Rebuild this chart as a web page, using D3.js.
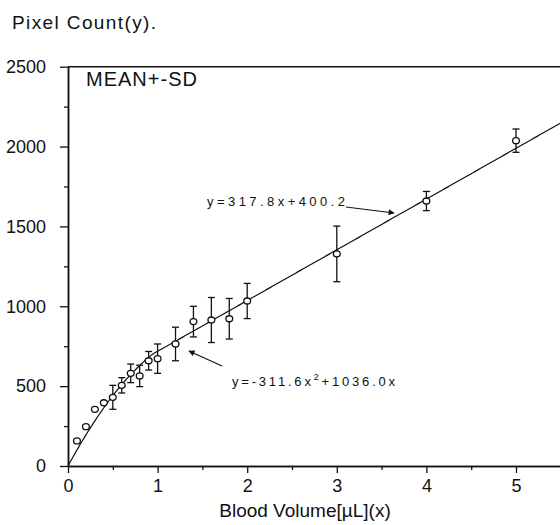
<!DOCTYPE html>
<html>
<head>
<meta charset="utf-8">
<script src="https://cdn.jsdelivr.net/npm/d3@7"></script>
<style>
  body { margin: 0; background: #fff; }
  text { font-family: "Liberation Sans", Arial, sans-serif; fill: #111; }
</style>
</head>
<body>
<svg id="chart" width="560" height="525"></svg>
<script>
// blood volume (uL) and mean pixel count with SD
const volumes = [0.1, 0.2, 0.3, 0.4, 0.5, 0.6, 0.7, 0.8, 0.9, 1.0, 1.2, 1.4, 1.6, 1.8, 2.0, 3.0, 4.0, 5.0];
const means   = [157, 246, 355, 396, 430, 505, 580, 564, 659, 672, 764, 904, 914, 922, 1033, 1328, 1659, 2037];
const sds     = [0, 0, 0, 0, 75, 48, 58, 67, 58, 92, 105, 96, 141, 127, 110, 174, 60, 73];

// fitted curves printed on the chart
const quadCoef = [-311.6, 1036.0];   // a*x^2 + b*x
const linCoef  = [317.8, 400.2];     // m*x + c

const xTicks = [0, 1, 2, 3, 4, 5];
const xMinor = [0.5, 1.5, 2.5, 3.5, 4.5];
const yTicks = [0, 500, 1000, 1500, 2000, 2500];
const yMinor = [250, 750, 1250, 1750, 2250];

const margin = { left: 68, top: 66.7 };
const innerWidth = 492.8;
const innerHeight = 399.3;

const svgRef = d3.select("#chart");
svgRef.selectAll("*").remove();

const defs = svgRef.append("defs");
defs.append("marker")
    .attr("id", "arrow")
    .attr("viewBox", "0 0 10 10")
    .attr("refX", 9).attr("refY", 5)
    .attr("markerWidth", 9).attr("markerHeight", 6)
    .attr("markerUnits", "userSpaceOnUse")
    .attr("orient", "auto")
  .append("path")
    .attr("d", "M0,0 L10,5 L0,10 z")
    .attr("fill", "#111");

const svg = svgRef.append("g")
    .attr("transform", `translate(${margin.left}, ${margin.top})`);

const xScale = d3.scaleLinear().domain([0, 5.5]).range([0, innerWidth]);
const yScale = d3.scaleLinear().domain([0, 2500]).range([innerHeight, 0]);

// bottom axis: major + minor ticks
svg.append("g")
    .attr("transform", `translate(0, ${innerHeight})`)
    .call(d3.axisBottom(xScale).tickValues(xTicks).tickFormat(d3.format("d"))
      .tickSize(7).tickPadding(6).tickSizeOuter(0));
svg.append("g")
    .attr("transform", `translate(0, ${innerHeight})`)
    .call(d3.axisBottom(xScale).tickValues(xMinor).tickFormat("").tickSize(4).tickSizeOuter(0));

// left axis
svg.append("g")
    .call(d3.axisLeft(yScale).tickValues(yTicks).tickFormat(d3.format("d"))
      .tickSize(8).tickPadding(14).tickSizeOuter(0));
svg.append("g")
    .call(d3.axisLeft(yScale).tickValues(yMinor).tickFormat("").tickSize(4).tickSizeOuter(0));

// top and right frame
svg.append("line")
    .attr("x1", 0).attr("x2", innerWidth).attr("y1", 0).attr("y2", 0)
    .attr("stroke", "#111").attr("stroke-width", 1.5);
svg.append("line")
    .attr("x1", innerWidth).attr("x2", innerWidth).attr("y1", 0).attr("y2", innerHeight)
    .attr("stroke", "#111").attr("stroke-width", 1.5);

svg.selectAll(".domain").attr("stroke", "#111").attr("stroke-width", 1.5);
svg.selectAll(".tick line").attr("stroke", "#111").attr("stroke-width", 1.3);
svg.selectAll(".tick text")
    .style("font-size", "18px")
    .style("font-family", "'Liberation Sans', Arial, sans-serif")
    .attr("fill", "#111");

// fitted line: quadratic up to where it meets the linear fit, linear after
const cross = (-(quadCoef[1] - linCoef[0]) + Math.sqrt((quadCoef[1] - linCoef[0]) ** 2 + 4 * quadCoef[0] * linCoef[1])) / (2 * quadCoef[0]);
const fitX = d3.range(0, 5.51, 0.02);
const fitY = x => x < cross ? quadCoef[0] * x * x + quadCoef[1] * x : linCoef[0] * x + linCoef[1];

const line = d3.line()
    .x(d => xScale(d))
    .y(d => yScale(fitY(d)));

svg.append("path")
    .datum(fitX)
    .attr("fill", "none")
    .attr("stroke", "#111")
    .attr("stroke-width", 1.2)
    .attr("d", line);

// error bars
const points = volumes.map((v, i) => ({ x: v, y: means[i], sd: sds[i] }));
const bars = svg.selectAll(".err")
    .data(points.filter(d => d.sd > 0))
    .join("g")
    .attr("stroke", "#111")
    .attr("stroke-width", 1.3);
bars.append("line")
    .attr("x1", d => xScale(d.x)).attr("x2", d => xScale(d.x))
    .attr("y1", d => yScale(d.y + d.sd)).attr("y2", d => yScale(d.y - d.sd));
bars.append("line")
    .attr("x1", d => xScale(d.x) - 3.5).attr("x2", d => xScale(d.x) + 3.5)
    .attr("y1", d => yScale(d.y + d.sd)).attr("y2", d => yScale(d.y + d.sd));
bars.append("line")
    .attr("x1", d => xScale(d.x) - 3.5).attr("x2", d => xScale(d.x) + 3.5)
    .attr("y1", d => yScale(d.y - d.sd)).attr("y2", d => yScale(d.y - d.sd));

// mean markers
svg.selectAll(".pt")
    .data(points)
    .join("ellipse")
    .attr("cx", d => xScale(d.x))
    .attr("cy", d => yScale(d.y))
    .attr("rx", 3.4).attr("ry", 3)
    .attr("fill", "#fff")
    .attr("stroke", "#111")
    .attr("stroke-width", 1.3);

// text labels
svgRef.append("text")
    .attr("x", 12).attr("y", 29)
    .attr("textLength", 144).attr("lengthAdjust", "spacing")
    .style("font-size", "19px")
    .text("Pixel Count(y).");

svgRef.append("text")
    .attr("x", 86).attr("y", 86)
    .attr("textLength", 111).attr("lengthAdjust", "spacing")
    .style("font-size", "20px")
    .text("MEAN+-SD");

svgRef.append("text")
    .attr("x", 305).attr("y", 517)
    .attr("text-anchor", "middle")
    .style("font-size", "19px")
    .text("Blood Volume[\u00b5L](x)");

// equation annotations
svgRef.append("text")
    .attr("x", 207).attr("y", 206)
    .attr("textLength", 138).attr("lengthAdjust", "spacing")
    .style("font-size", "13px")
    .text("y=317.8x+400.2");

const eq2 = svgRef.append("text")
    .attr("x", 232).attr("y", 386)
    .style("font-size", "13px")
    .attr("letter-spacing", "2.8px");
eq2.append("tspan").text("y=-311.6x");
eq2.append("tspan").attr("dy", -6).style("font-size", "9px").text("2");
eq2.append("tspan").attr("dy", 6).text("+1036.0x");

svgRef.append("line")
    .attr("x1", 346).attr("y1", 207).attr("x2", 394).attr("y2", 213)
    .attr("stroke", "#111").attr("stroke-width", 1.2)
    .attr("marker-end", "url(#arrow)");
svgRef.append("line")
    .attr("x1", 222).attr("y1", 366).attr("x2", 189).attr("y2", 351)
    .attr("stroke", "#111").attr("stroke-width", 1.2)
    .attr("marker-end", "url(#arrow)");
</script>
</body>
</html>
